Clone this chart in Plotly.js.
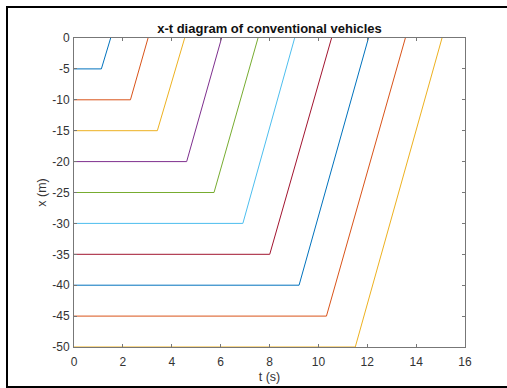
<!DOCTYPE html>
<html>
<head>
<meta charset="utf-8">
<script src="https://cdn.plot.ly/plotly-3.0.1.min.js"></script>
<style>
  html, body { margin: 0; padding: 0; background: #fff; overflow: hidden; }
  #chart { position: absolute; left: 0; top: 0; width: 507px; height: 388px; }
  #frame { position: absolute; left: 6px; top: 6px; width: 520px; height: 378px;
           border-left: 2px solid #000; border-top: 2px solid #000; border-bottom: 2px solid #000;
           pointer-events: none; }
</style>
</head>
<body>
<div id="chart"></div>
<div id="frame"></div>
<script>
// Vehicle start positions (m)
const positions = [-5, -10, -15, -20, -25, -30, -35, -40, -45, -50];
// Time each vehicle starts moving (s)
const startTimes = [1.12, 2.31, 3.41, 4.61, 5.73, 6.91, 8.01, 9.21, 10.33, 11.51];
// Time each vehicle reaches x = 0 (s)
const arrivalTimes = [1.50, 3.03, 4.53, 6.04, 7.53, 9.03, 10.54, 12.05, 13.56, 15.06];
// Line colours (MATLAB default order)
const colors = ['#0072BD', '#D95319', '#EDB120', '#7E2F8E', '#77AC30', '#4DBEEE', '#A2142F', '#0072BD', '#D95319', '#EDB120'];
// Tick values and labels
const xTickVals = [0, 2, 4, 6, 8, 10, 12, 14, 16];
const xTickText = ['0', '2', '4', '6', '8', '10', '12', '14', '16'];
const yTickVals = [0, -5, -10, -15, -20, -25, -30, -35, -40, -45, -50];
const yTickText = ['0', '-5', '-10', '-15', '-20', '-25', '-30', '-35', '-40', '-45', '-50'];

const traces = positions.map((p, i) => ({
  type: 'scatter',
  mode: 'lines',
  x: [0, startTimes[i], arrivalTimes[i]],
  y: [p, p, 0],
  line: { color: colors[i], width: 1 },
  hoverinfo: 'skip',
  showlegend: false
}));

const fontFam = 'Liberation Sans, Arial, sans-serif';
const layout = {
  width: 507, height: 388,
  margin: { l: 74, r: 42, t: 38, b: 41, pad: 0 },
  paper_bgcolor: '#fff', plot_bgcolor: '#fff',
  font: { family: fontFam, size: 12, color: '#333' },
  title: {
    text: '<b>x-t diagram of conventional vehicles</b>',
    font: { family: fontFam, size: 13, color: '#111' },
    x: 0.5, xref: 'paper', xanchor: 'center',
    y: 1 - 28 / 388, yref: 'container', yanchor: 'middle'
  },
  xaxis: {
    range: [0, 16], tickvals: xTickVals, ticktext: xTickText,
    ticks: 'inside', ticklen: 3, tickcolor: '#777', tickwidth: 1,
    showline: true, linecolor: '#777', linewidth: 1, mirror: 'ticks',
    showgrid: false, zeroline: false, ticklabelstandoff: 4,
    tickfont: { family: fontFam, size: 12, color: '#333' },
    title: { text: 't (s)', font: { family: fontFam, size: 12.5, color: '#333' }, standoff: 3 }
  },
  yaxis: {
    range: [-50, 0], tickvals: yTickVals, ticktext: yTickText,
    ticks: 'inside', ticklen: 3, tickcolor: '#777', tickwidth: 1,
    showline: true, linecolor: '#777', linewidth: 1, mirror: 'ticks',
    showgrid: false, zeroline: false, ticklabelstandoff: 1,
    tickfont: { family: fontFam, size: 12, color: '#333' },
    title: { text: 'x (m)', font: { family: fontFam, size: 12.5, color: '#333' }, standoff: 2 }
  }
};

Plotly.newPlot('chart', traces, layout, { staticPlot: true, displayModeBar: false });
</script>
</body>
</html>
